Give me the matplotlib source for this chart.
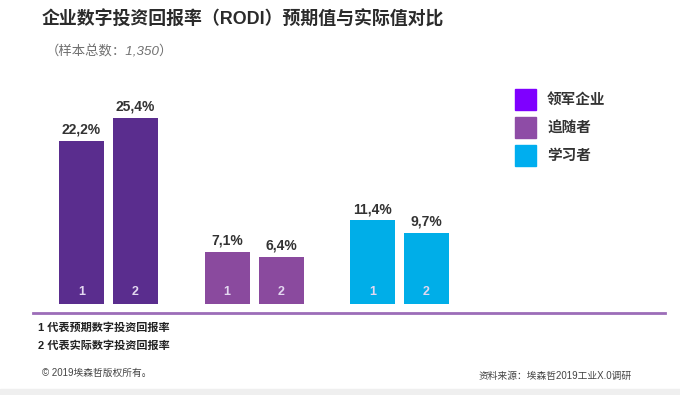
import matplotlib
matplotlib.use("Agg")
import matplotlib.pyplot as plt
from matplotlib.patches import Rectangle
from matplotlib.lines import Line2D

plt.rcParams['font.family'] = ['Liberation Sans', 'Noto Sans CJK SC', 'DejaVu Sans']

groups = ['领军企业', '追随者', '学习者']
expected = [22.2, 7.1, 11.4]
actual = [25.4, 6.4, 9.7]
bar_labels = ['1', '2']
bar_colors = ['#5A2D8E', '#8A4A9E', '#00AEE8']
legend_colors = ['#7F00FF', '#8E4CA6', '#00AEEF']
title = '企业数字投资回报率（RODI）预期值与实际值对比'
subtitle = '（样本总数：1,350）'
notes = ['1 代表预期数字投资回报率', '2 代表实际数字投资回报率']
copyright_text = '© 2019埃森哲版权所有。'
source_text = '资料来源：埃森哲2019工业X.0调研'

W, H = 680, 395
fig = plt.figure(figsize=(W / 100, H / 100), dpi=100)
fig.patch.set_facecolor('white')

def fx(px):
    return px / W

def fy(py):
    return 1 - py / H

# axes: baseline at pixel y=304, 7.33 px per unit
base_py = 304
ymax = 30
scale = 7.33
ax = fig.add_axes([0, fy(base_py), 1, ymax * scale / H])
ax.set_xlim(-108.5 / 145.5, (680 - 108.5) / 145.5)
ax.set_ylim(0, ymax)
ax.axis('off')

off = 27 / 145.5
bw = 45 / 145.5
for i, g in enumerate(groups):
    for j, vals in enumerate([expected, actual]):
        x = i + (j * 2 - 1) * off
        v = vals[i]
        ax.bar(x, v, width=bw, color=bar_colors[i], linewidth=0)
        ax.text(x, v + 0.6, f'{v:.1f}'.replace('.', ',') + '%', ha='center', va='bottom',
                fontsize=10, fontweight='bold', color='#333333')
        ax.text(x, 1.6, bar_labels[j], ha='center', va='center', fontsize=9,
                fontweight='bold', color='#E3D8F0')

# baseline line
fig.add_artist(Line2D([fx(33), fx(665)], [fy(313), fy(313)], color='#9C6DB8', lw=2))

# title & subtitle
fig.text(fx(42), fy(19), title, fontsize=12.9, fontweight='bold', color='#2B2B2B',
         ha='left', va='center')
fig.text(fx(46), fy(52), subtitle, fontsize=9.6, style='italic', color='#707070',
         ha='left', va='center')

# legend
for k, g in enumerate(groups):
    top = 89 + k * 28
    fig.add_artist(Rectangle((fx(515), fy(top + 21)), fx(21), 21 / H,
                             color=legend_colors[k], transform=fig.transFigure))
    fig.text(fx(547), fy(top + 10.5), g, fontsize=10.5, fontweight='bold', color='#333333',
             ha='left', va='center')

# notes
for k, n in enumerate(notes):
    fig.text(fx(38), fy(328 + k * 17.5), n, fontsize=8, fontweight='bold', color='#222222',
             ha='left', va='center')

fig.text(fx(42), fy(373), copyright_text, fontsize=7, color='#444444', ha='left', va='center')
fig.text(fx(632), fy(376), source_text, fontsize=7, color='#444444', ha='right', va='center')

# bottom grey band
fig.add_artist(Rectangle((0, 0), 1, 6 / H, color='#EFEFEF', transform=fig.transFigure))

fig.savefig('out.png', dpi=100)
